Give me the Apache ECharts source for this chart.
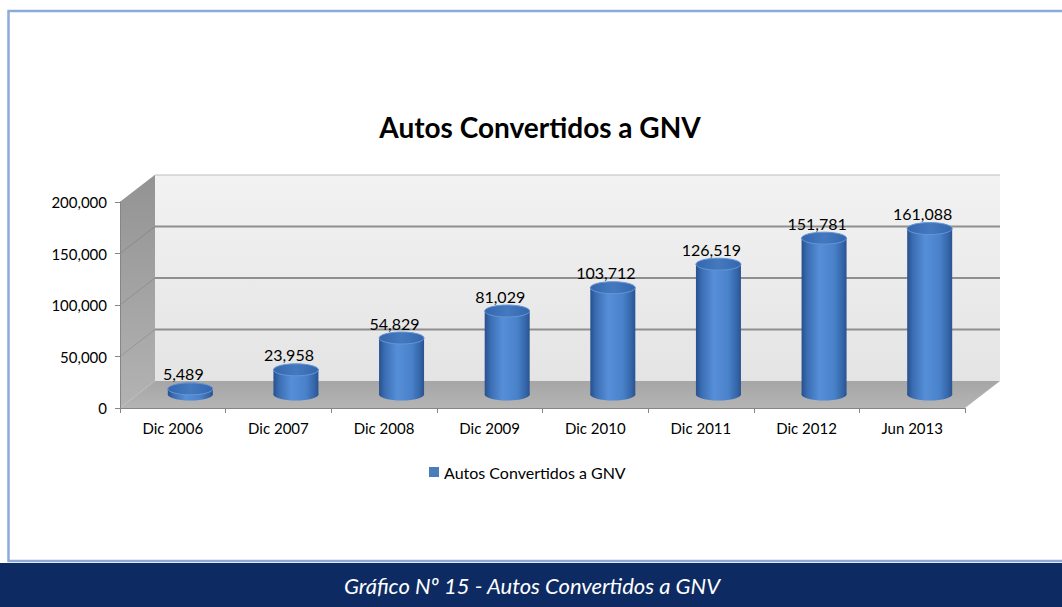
<!DOCTYPE html>
<html>
<head>
<meta charset="utf-8">
<style>
  html, body { margin: 0; padding: 0; background: #fff; }
  #chart { width: 1062px; height: 607px; }
</style>
<script src="https://cdn.jsdelivr.net/npm/echarts@6/dist/echarts.min.js"></script>
</head>
<body>
<div id="chart"></div>
<script>
var categories = ['Dic 2006', 'Dic 2007', 'Dic 2008', 'Dic 2009', 'Dic 2010', 'Dic 2011', 'Dic 2012', 'Jun 2013'];
var values = [5489, 23958, 54829, 81029, 103712, 126519, 151781, 161088];
var yTicks = [0, 50000, 100000, 150000, 200000];
var seriesName = 'Autos Convertidos a GNV';
var chartTitle = 'Autos Convertidos a GNV';
var footerText = 'Gráfico Nº 15 - Autos Convertidos a GNV';

// profundidad del efecto 3D
var DX = 35, DY = -27;
var BAR_W = 45, RY = 6;
var FONT = 'Lato, "Open Sans", sans-serif';

function fmt(v) {
  return String(v).replace(/\B(?=(\d{3})+(?!\d))/g, ',');
}

// paredes y piso
function renderWalls(params, api) {
  var cs = params.coordSys;
  var x0 = cs.x, x1 = cs.x + cs.width, yt = cs.y, yb = cs.y + cs.height;
  var children = [];
  children.push({
    type: 'polygon',
    shape: { points: [[x0 + DX, yt + DY], [x1 + DX, yt + DY], [x1 + DX, yb + DY], [x0 + DX, yb + DY]] },
    style: { fill: new echarts.graphic.LinearGradient(0, 0, 0, 1, [
      { offset: 0, color: '#f2f2f2' }, { offset: 1, color: '#e4e4e4' }]) }
  });
  children.push({
    type: 'polygon',
    shape: { points: [[x0, yt], [x0 + DX, yt + DY], [x0 + DX, yb + DY], [x0, yb]] },
    style: { fill: new echarts.graphic.LinearGradient(0, 0, 0, 1, [
      { offset: 0, color: '#939393' }, { offset: 1, color: '#b3b3b3' }]) }
  });
  children.push({
    type: 'polygon',
    shape: { points: [[x0, yb], [x1, yb], [x1 + DX, yb + DY], [x0 + DX, yb + DY]] },
    style: { fill: new echarts.graphic.LinearGradient(0, 0, 0, 1, [
      { offset: 0, color: '#a6a6a6' }, { offset: 1, color: '#b4b4b4' }]) }
  });
  yTicks.forEach(function (t, i) {
    if (i === 0) return;
    var y = api.coord([0, t])[1];
    var last = i === yTicks.length - 1;
    children.push({
      type: 'line',
      shape: { x1: x0 + DX, y1: y + DY, x2: x1 + DX, y2: y + DY },
      style: { stroke: last ? '#bdbdbd' : '#8f8f8f', lineWidth: last ? 1 : 2 }
    });
    children.push({
      type: 'line',
      shape: { x1: x0, y1: y, x2: x0 + DX, y2: y + DY },
      style: { stroke: 'rgba(0,0,0,0.12)', lineWidth: 1 }
    });
  });
  return { type: 'group', children: children };
}

// cilindros
function renderBar(params, api) {
  var idx = api.value(0), v = api.value(1);
  var top = api.coord([idx, v]), base = api.coord([idx, 0]);
  var cx = top[0] + DX / 2, yTop = top[1] + DY / 2, yBot = base[1] + DY / 2;
  var body = new echarts.graphic.LinearGradient(0, 0, 1, 0, [
    { offset: 0, color: '#27508d' },
    { offset: 0.12, color: '#3a6cb2' },
    { offset: 0.4, color: '#568fd8' },
    { offset: 0.72, color: '#4a82ca' },
    { offset: 0.92, color: '#3364a7' },
    { offset: 1, color: '#2a528f' }
  ]);
  var cap = new echarts.graphic.LinearGradient(0, 0, 1, 0, [
    { offset: 0, color: '#3466ad' },
    { offset: 0.5, color: '#4479c0' },
    { offset: 1, color: '#3466ad' }
  ]);
  return {
    type: 'group',
    children: [
      { type: 'ellipse', shape: { cx: cx, cy: yBot, rx: BAR_W / 2, ry: RY }, style: { fill: body } },
      { type: 'rect', shape: { x: cx - BAR_W / 2, y: yTop, width: BAR_W, height: yBot - yTop }, style: { fill: body } },
      { type: 'ellipse', shape: { cx: cx, cy: yTop, rx: BAR_W / 2, ry: RY }, style: { fill: cap, stroke: '#6596d6', lineWidth: 1 } },
      {
        type: 'text',
        style: {
          text: fmt(v), x: cx - 7, y: yTop - RY - 1,
          align: 'center', verticalAlign: 'bottom', textAlign: 'center', textVerticalAlign: 'bottom',
          font: '16px ' + FONT, fill: '#000'
        }
      }
    ]
  };
}

var chart = echarts.init(document.getElementById('chart'), null, { renderer: 'svg' });
var option = {
  animation: false,
  backgroundColor: '#fff',
  title: {
    text: chartTitle,
    left: 535,
    textAlign: 'center',
    top: 108,
    textStyle: { fontFamily: FONT, fontWeight: 'bold', fontSize: 28, color: '#000' }
  },
  legend: {
    data: [seriesName],
    left: 429,
    top: 464,
    padding: 0,
    icon: 'rect',
    itemWidth: 10,
    itemHeight: 10,
    selectedMode: false,
    textStyle: { fontFamily: FONT, fontSize: 16, color: '#000' }
  },
  grid: { left: 120, right: 97, top: 202, bottom: 199 },
  xAxis: {
    type: 'category',
    data: categories,
    axisLine: { lineStyle: { color: '#868686' } },
    axisTick: { show: true, length: 5, lineStyle: { color: '#868686' } },
    axisLabel: { color: '#000', fontFamily: FONT, fontSize: 15, margin: 12 },
    splitLine: { show: false }
  },
  yAxis: {
    type: 'value',
    min: yTicks[0],
    max: yTicks[yTicks.length - 1],
    interval: yTicks[1] - yTicks[0],
    axisLine: { show: true, lineStyle: { color: '#868686' } },
    axisTick: { show: true, length: 5, lineStyle: { color: '#868686' } },
    axisLabel: { color: '#000', fontFamily: FONT, fontSize: 15, margin: 13, formatter: fmt },
    splitLine: { show: false }
  },
  graphic: [
    {
      type: 'rect',
      shape: { x: 8.5, y: 11, width: 1060, height: 550 },
      style: { fill: 'none', stroke: '#8eaad8', lineWidth: 2.5 },
      z: 100
    },
    {
      type: 'rect',
      shape: { x: 0, y: 563, width: 1062, height: 44 },
      style: { fill: '#0d2b62' },
      z: 100
    },
    {
      type: 'text',
      x: 532,
      y: 585,
      style: {
        text: footerText,
        align: 'center', verticalAlign: 'middle', textAlign: 'center', textVerticalAlign: 'middle',
        font: 'italic 22px ' + FONT, fill: '#fff'
      },
      z: 101
    }
  ],
  series: [
    {
      name: 'walls',
      type: 'custom',
      silent: true,
      clip: false,
      z: -1,
      renderItem: renderWalls,
      data: [[0, 0]]
    },
    {
      name: seriesName,
      type: 'custom',
      clip: false,
      itemStyle: { color: '#4a7ebb' },
      encode: { x: 0, y: 1 },
      renderItem: renderBar,
      data: values.map(function (v, i) { return [i, v]; })
    }
  ]
};
chart.setOption(option);
</script>
</body>
</html>
